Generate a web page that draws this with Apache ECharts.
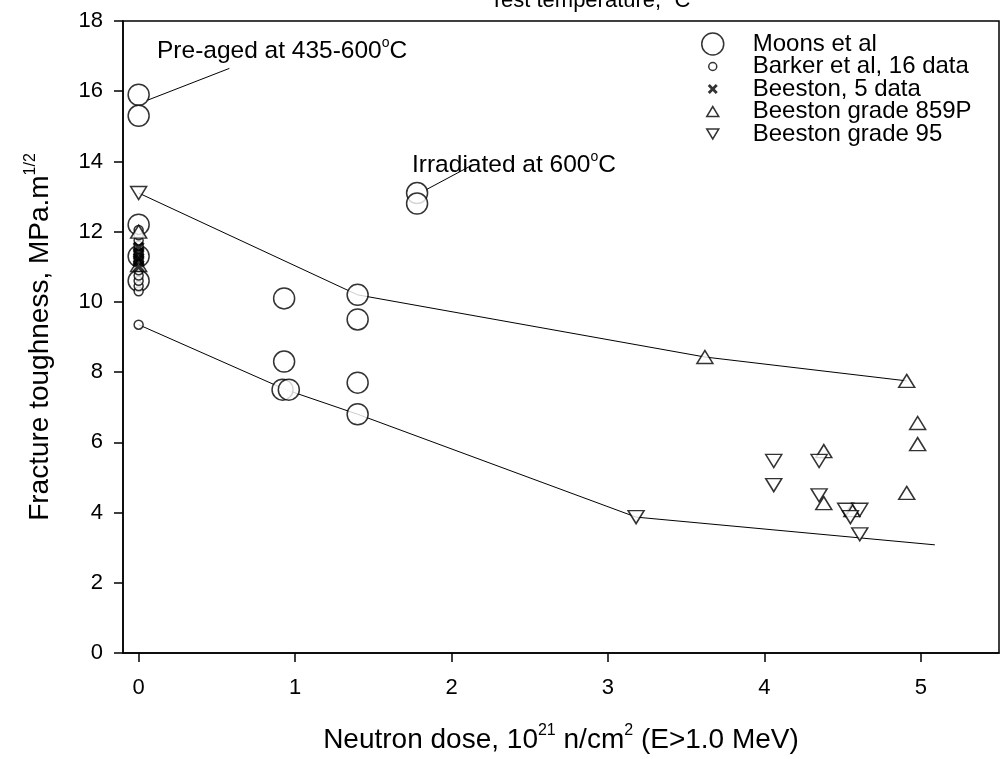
<!DOCTYPE html>
<html>
<head>
<meta charset="utf-8">
<script src="https://cdn.jsdelivr.net/npm/echarts@6/dist/echarts.min.js"></script>
<style>
  html, body { margin: 0; padding: 0; background: #fff; }
  #chart { width: 1005px; height: 759px; }
</style>
</head>
<body>
<div id="chart"></div>
<script>
// tick values
var xTicks = [0, 1, 2, 3, 4, 5];

// Moons et al
var moonsX = [0, 0, 0, 0, 0, 0.93, 0.93, 0.92, 0.96, 1.4, 1.4, 1.4, 1.4, 1.78, 1.78];
var moonsY = [15.9, 15.3, 12.2, 11.3, 10.6, 10.1, 8.3, 7.5, 7.5, 10.2, 9.5, 7.7, 6.8, 13.1, 12.8];

// Barker et al, 16 data (all at zero dose)
var barkerX = [0, 0, 0, 0, 0, 0, 0, 0, 0, 0, 0, 0, 0, 0, 0, 0];
var barkerY = [9.35, 10.3, 10.45, 10.6, 10.75, 10.9, 11.0, 11.1, 11.2, 11.3, 11.4, 11.5, 11.6, 11.75, 11.9, 12.05];

// Beeston, 5 data
var beestonX = [0, 0, 0, 0, 0];
var beestonY = [11.0, 11.15, 11.25, 11.4, 11.55];

// Beeston grade 859P
var g859X = [0, 0, 3.62, 4.91, 4.98, 4.98, 4.91, 4.38, 4.38, 4.56];
var g859Y = [12.0, 11.05, 8.43, 7.75, 6.55, 5.95, 4.56, 5.75, 4.27, 4.07];

// Beeston grade 95
var g95X = [0, 3.18, 4.06, 4.06, 4.35, 4.35, 4.52, 4.61, 4.55, 4.61];
var g95Y = [13.1, 3.87, 5.47, 4.78, 5.47, 4.49, 4.08, 4.08, 3.87, 3.38];

// bounding curves
var upperX = [0, 1.4, 3.62, 4.91];
var upperY = [13.1, 10.2, 8.43, 7.75];
var lowerX = [0, 0.94, 1.4, 3.18, 5.09];
var lowerY = [9.35, 7.5, 6.8, 3.87, 3.08];

function pairs(xs, ys) {
  return xs.map(function (x, i) { return [x, ys[i]]; });
}

var FONT = 'Liberation Sans, Arial, sans-serif';
var hollow = { color: '#fff', borderColor: '#000', borderWidth: 1.5 };

var crossPath = 'path://M0,2L2,0L5,3L8,0L10,2L7,5L10,8L8,10L5,7L2,10L0,8L3,5Z';
var triDownPath = 'path://M0,0L12,0L6,10Z';

// legend icons, padded to the 24x22 icon box
var iconSmall = 'path://M0,0M24,22M8,11A4,4,0,1,1,16,11A4,4,0,1,1,8,11Z';
var iconCross = 'path://M0,0M24,22M7,8L9,6L12,9L15,6L17,8L14,11L17,14L15,16L12,13L9,16L7,14L10,11Z';
var iconUp = 'path://M0,0M24,22M6,16L18,16L12,6Z';
var iconDown = 'path://M0,0M24,22M6,6L18,6L12,16Z';

function richOf(size, sup) {
  return {
    n: { fontFamily: FONT, fontSize: size, lineHeight: size + 6, color: '#000' },
    s: { fontFamily: FONT, fontSize: sup, lineHeight: sup, verticalAlign: 'top', color: '#000' }
  };
}

var chart = echarts.init(document.getElementById('chart'));
chart.setOption({
  animation: false,
  textStyle: { fontFamily: FONT },
  grid: {
    left: 123, right: 6, top: 21, bottom: 106,
    show: true, borderColor: '#000', borderWidth: 1.5
  },
  legend: {
    orient: 'vertical',
    left: 695,
    top: 27,
    itemWidth: 24,
    itemHeight: 22,
    itemGap: -1.5,
    textStyle: { fontSize: 24, lineHeight: 22, color: '#000', fontFamily: FONT, padding: [0, 0, 0, 23] },
    data: [
      { name: 'Moons et al', icon: 'circle', itemStyle: hollow },
      { name: 'Barker et al, 16 data', icon: iconSmall, itemStyle: hollow },
      { name: 'Beeston, 5 data', icon: iconCross, itemStyle: { color: '#000', borderWidth: 0 } },
      { name: 'Beeston grade 859P', icon: iconUp, itemStyle: hollow },
      { name: 'Beeston grade 95', icon: iconDown, itemStyle: hollow }
    ]
  },
  xAxis: {
    type: 'value',
    min: -0.1,
    max: 5.5,
    name: '{n|Neutron dose, 10}{s|21}{n| n/cm}{s|2}{n| (E>1.0 MeV)}',
    nameLocation: 'middle',
    nameGap: 70,
    nameTextStyle: { rich: richOf(28, 16) },
    axisLine: { lineStyle: { color: '#000', width: 1.5 } },
    axisTick: { show: true, inside: false, length: 9, customValues: xTicks, lineStyle: { color: '#000', width: 1.5 } },
    axisLabel: { customValues: xTicks, fontSize: 22, color: '#000', margin: 24 },
    splitLine: { show: false }
  },
  yAxis: {
    type: 'value',
    min: 0,
    max: 18,
    interval: 2,
    name: '{n|Fracture toughness, MPa.m}{s|1/2}',
    nameLocation: 'middle',
    nameRotate: 90,
    nameGap: 66,
    nameTextStyle: { rich: richOf(28, 16) },
    axisLine: { onZero: false, lineStyle: { color: '#000', width: 1.5 } },
    axisTick: { show: true, inside: false, length: 9, lineStyle: { color: '#000', width: 1.5 } },
    axisLabel: { fontSize: 22, color: '#000', margin: 20 },
    splitLine: { show: false }
  },
  graphic: [
    {
      type: 'text', left: 490, top: -13, silent: true,
      style: { text: '{n|Test temperature, }{s|o}{n|C}', rich: richOf(22, 13) }
    },
    {
      type: 'text', left: 157, top: 36, silent: true,
      style: { text: '{n|Pre-aged at 435-600}{s|o}{n|C}', rich: richOf(24.5, 14) }
    },
    {
      type: 'text', left: 412, top: 150, silent: true,
      style: { text: '{n|Irradiated at 600}{s|o}{n|C}', rich: richOf(24.5, 14) }
    }
  ],
  series: [
    {
      name: 'upper', type: 'line', data: pairs(upperX, upperY), showSymbol: false, symbol: 'none',
      lineStyle: { color: '#000', width: 1 }, silent: true, z: 1
    },
    {
      name: 'lower', type: 'line', data: pairs(lowerX, lowerY), showSymbol: false, symbol: 'none',
      lineStyle: { color: '#000', width: 1 }, silent: true, z: 1
    },
    {
      name: 'Moons et al', type: 'scatter', data: pairs(moonsX, moonsY),
      symbol: 'circle', symbolSize: 21, itemStyle: hollow, z: 3,
      markLine: {
        silent: true, symbol: ['none', 'none'], label: { show: false },
        lineStyle: { color: '#000', width: 1, type: 'solid' },
        data: [
          [{ coord: [0.06, 15.75] }, { coord: [0.58, 16.65] }],
          [{ coord: [1.84, 13.2] }, { coord: [2.13, 13.89] }]
        ]
      }
    },
    {
      name: 'Barker et al, 16 data', type: 'scatter', data: pairs(barkerX, barkerY),
      symbol: 'circle', symbolSize: 9, itemStyle: hollow, z: 4
    },
    {
      name: 'Beeston, 5 data', type: 'scatter', data: pairs(beestonX, beestonY),
      symbol: crossPath, symbolSize: 12, itemStyle: { color: '#000' }, z: 5
    },
    {
      name: 'Beeston grade 859P', type: 'scatter', data: pairs(g859X, g859Y),
      symbol: 'triangle', symbolSize: [16, 13], itemStyle: hollow, z: 4
    },
    {
      name: 'Beeston grade 95', type: 'scatter', data: pairs(g95X, g95Y),
      symbol: triDownPath, symbolSize: [16, 13], itemStyle: hollow, z: 4
    }
  ]
});
</script>
</body>
</html>
